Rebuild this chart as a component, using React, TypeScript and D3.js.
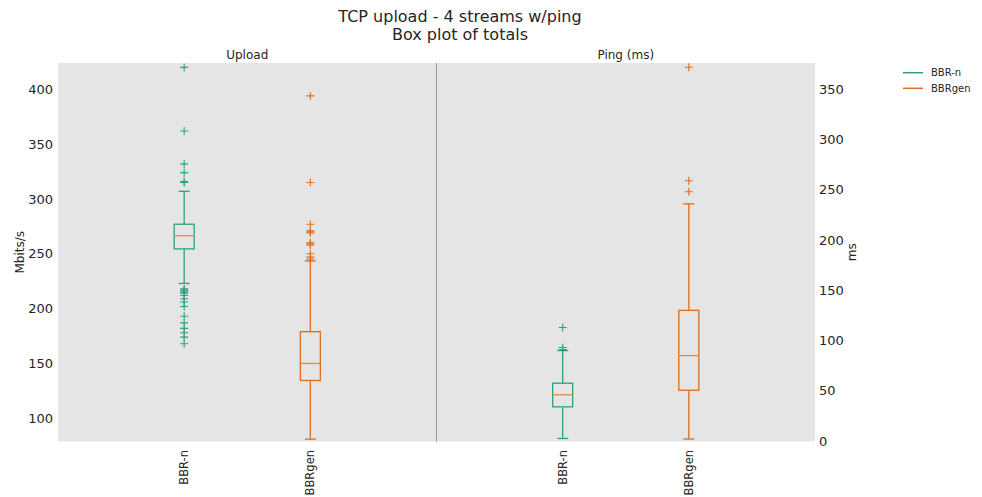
import React from "react";
import * as d3 from "d3";

const W = 982;
const H = 497;
const PLOT = { left: 58, right: 815, top: 63, bottom: 441.5 };
const FONT = "DejaVu Sans, sans-serif";

const seriesNames = ["BBR-n", "BBRgen"];
const colors = ["#2ea07f", "#dc6d1c"];
const medianColor = "#e7853a";

// Upload (Mbits/s), left axis
const uploadLow = [223, 81];
const uploadQ1 = [254.5, 134.5];
const uploadMedian = [266.5, 150];
const uploadQ3 = [277, 179];
const uploadHigh = [307, 243.5];
const uploadOutliers = [
  [420, 362, 332, 324, 316, 315, 218, 217, 216, 215, 214, 212, 209, 206, 202, 193, 187, 182, 178, 174, 168],
  [394, 315, 277, 271, 270, 269, 260, 259, 258, 250, 247, 245],
];

// Ping (ms), right axis
const pingLow = [2.5, 2];
const pingQ1 = [34, 50.5];
const pingMedian = [46, 85];
const pingQ3 = [57.5, 130];
const pingHigh = [90, 236];
const pingOutliers = [
  [113, 93, 91],
  [372, 259, 248],
];

const leftTicks = [100, 150, 200, 250, 300, 350, 400];
const rightTicks = [0, 50, 100, 150, 200, 250, 300, 350];

const x = d3.scaleLinear().domain([0, 6]).range([PLOT.left, PLOT.right]);
const yLeft = d3.scaleLinear().domain([78.85, 424]).range([PLOT.bottom, PLOT.top]);
const yRight = d3.scaleLinear().domain([-0.5, 376.2]).range([PLOT.bottom, PLOT.top]);

const BOX_W = 20;
const CAP_W = 11;

function BoxPlot({ cx, y, low, q1, med, q3, high, outliers, color }) {
  const plus = 4;
  return (
    <g stroke={color} fill="none" strokeWidth={1.3}>
      <line x1={cx} x2={cx} y1={y(low)} y2={y(q1)} />
      <line x1={cx} x2={cx} y1={y(q3)} y2={y(high)} />
      <line x1={cx - CAP_W / 2} x2={cx + CAP_W / 2} y1={y(low)} y2={y(low)} />
      <line x1={cx - CAP_W / 2} x2={cx + CAP_W / 2} y1={y(high)} y2={y(high)} />
      <rect x={cx - BOX_W / 2} y={y(q3)} width={BOX_W} height={y(q1) - y(q3)} />
      <line x1={cx - BOX_W / 2} x2={cx + BOX_W / 2} y1={y(med)} y2={y(med)} stroke={medianColor} />
      {outliers.map((v, i) => (
        <path key={i} strokeWidth={1.1} d={`M${cx - plus},${y(v)}H${cx + plus}M${cx},${y(v) - plus}V${y(v) + plus}`} />
      ))}
    </g>
  );
}

export default function App() {
  const textColor = "#262626";
  const uploadPos = [1, 2];
  const pingPos = [4, 5];
  const xLabels = [...uploadPos, ...pingPos];
  return (
    <svg width={W} height={H} style={{ position: "absolute", left: 0, top: 0 }} fontFamily={FONT}>
      <rect x={0} y={0} width={W} height={H} fill="#fff" />
      <text x={460} y={21.5} textAnchor="middle" fontSize={16} fill={textColor}>TCP upload - 4 streams w/ping</text>
      <text x={460} y={40} textAnchor="middle" fontSize={16} fill={textColor}>Box plot of totals</text>

      <rect x={PLOT.left} y={PLOT.top} width={PLOT.right - PLOT.left} height={PLOT.bottom - PLOT.top} fill="#e5e5e5" />
      <line x1={x(3)} x2={x(3)} y1={PLOT.top} y2={PLOT.bottom} stroke="#999" strokeWidth={1} />

      <text x={(x(0) + x(3)) / 2} y={58.5} textAnchor="middle" fontSize={12} fill={textColor}>Upload</text>
      <text x={(x(3) + x(6)) / 2} y={58.5} textAnchor="middle" fontSize={12} fill={textColor}>Ping (ms)</text>

      {leftTicks.map((t) => (
        <text key={t} x={53} y={yLeft(t)} dy="0.36em" textAnchor="end" fontSize={13} fill={textColor}>{t}</text>
      ))}
      {rightTicks.map((t) => (
        <text key={t} x={819} y={yRight(t)} dy="0.36em" textAnchor="start" fontSize={13} fill={textColor}>{t}</text>
      ))}
      <text transform={`translate(24,${(PLOT.top + PLOT.bottom) / 2}) rotate(-90)`} textAnchor="middle" fontSize={12} fill={textColor}>Mbits/s</text>
      <text transform={`translate(856,${(PLOT.top + PLOT.bottom) / 2}) rotate(-90)`} textAnchor="middle" fontSize={12} fill={textColor}>ms</text>

      {seriesNames.map((name, i) => (
        <BoxPlot key={"u" + name} cx={x(uploadPos[i])} y={yLeft} low={uploadLow[i]} q1={uploadQ1[i]} med={uploadMedian[i]}
          q3={uploadQ3[i]} high={uploadHigh[i]} outliers={uploadOutliers[i]} color={colors[i]} />
      ))}
      {seriesNames.map((name, i) => (
        <BoxPlot key={"p" + name} cx={x(pingPos[i])} y={yRight} low={pingLow[i]} q1={pingQ1[i]} med={pingMedian[i]}
          q3={pingQ3[i]} high={pingHigh[i]} outliers={pingOutliers[i]} color={colors[i]} />
      ))}

      {xLabels.map((p, i) => (
        <text key={i} transform={`translate(${x(p)},450) rotate(-90)`} dy="0.36em" textAnchor="end" fontSize={11.5} fill={textColor}>
          {seriesNames[i % 2]}
        </text>
      ))}

      {seriesNames.map((name, i) => (
        <g key={name} transform={`translate(903,${72.7 + i * 15.6})`}>
          <line x1={0} x2={20} y1={0} y2={0} stroke={colors[i]} strokeWidth={1.5} />
          <text x={28} y={0} dy="0.36em" fontSize={10} fill={textColor}>{name}</text>
        </g>
      ))}
    </svg>
  );
}
